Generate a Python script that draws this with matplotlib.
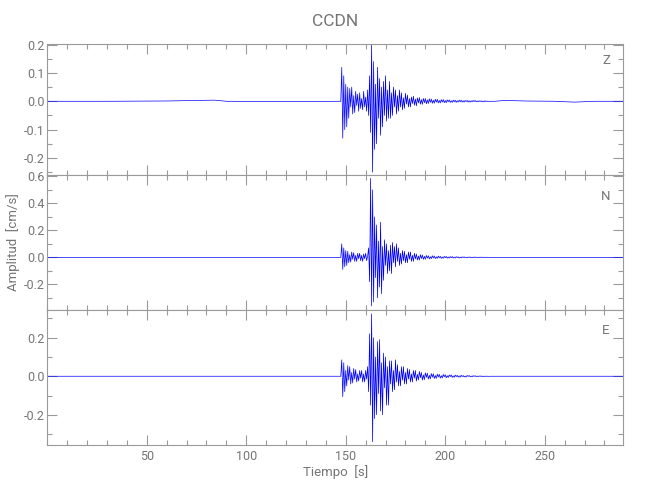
import numpy as np
import matplotlib
matplotlib.use("Agg")
import matplotlib.pyplot as plt
from matplotlib.ticker import MultipleLocator, FixedLocator, FormatStrFormatter

plt.rcParams['font.family'] = ['Roboto', 'DejaVu Sans']

# ---------------- data ----------------
title = "CCDN"
components = ["Z", "N", "E"]
x_label = "Tiempo  [s]"
y_label = "Amplitud  [cm/s]"
t_end = 289.5
x_ticks = [50, 100, 150, 200, 250]

# active part of the records, sampled every 0.5 s starting at 147.5 s
t_start = 147.5
dt = 0.5

z_vals = [
    0.0, 0.12, -0.13, 0.09, -0.10, 0.06, -0.09, 0.05, -0.06, 0.045,
    -0.02, 0.05, -0.045, 0.02, -0.04, 0.035, -0.015, 0.025, -0.035, 0.03,
    -0.025, 0.01, -0.03, 0.035, -0.02, 0.015, -0.035, 0.04, -0.05, 0.09,
    -0.11, 0.20, -0.25, 0.14, -0.17, 0.06, -0.15, 0.12, -0.06, 0.08,
    -0.12, 0.05, -0.09, 0.07, -0.05, 0.09, -0.07, 0.04, -0.06, 0.07,
    -0.06, 0.03, -0.05, 0.05, -0.02, 0.04, -0.045, 0.02, -0.035, 0.04,
    -0.02, 0.03, -0.03, 0.012, -0.025, 0.028, -0.01, 0.022, -0.02, 0.01,
    -0.02, 0.015, -0.008, 0.018, -0.014, 0.008, -0.016, 0.012, -0.006, 0.013,
    -0.01, 0.006, -0.011, 0.01, -0.005, 0.01, -0.009, 0.005, -0.008, 0.009,
    -0.004, 0.008, -0.007, 0.004, -0.007, 0.007, -0.003, 0.007, -0.006, 0.003,
    -0.006, 0.006, -0.003, 0.006, -0.005, 0.003, -0.005, 0.005, -0.002, 0.005,
    -0.004, 0.002, -0.004, 0.004, -0.002, 0.004, -0.004, 0.002, -0.003, 0.004,
    -0.002, 0.004, -0.003, 0.002, -0.003, 0.003, -0.001, 0.003, -0.003, 0.002,
    -0.003, 0.002, -0.002, 0.003, -0.001, 0.003, -0.002, 0.001, -0.002, 0.002,
    -0.001, 0.002, -0.002, 0.001, -0.002, 0.002, -0.001, 0.001, -0.001, 0.0,
]

n_vals = [
    0.0, 0.10, -0.09, 0.07, -0.07, 0.05, -0.06, 0.045, -0.04, 0.02,
    -0.035, 0.04, -0.015, 0.035, -0.03, 0.015, -0.03, 0.03, -0.01, 0.03,
    -0.025, 0.015, -0.03, 0.025, -0.01, 0.03, -0.025, 0.01, 0.07, -0.18,
    0.585, -0.36, 0.50, -0.33, 0.30, -0.15, 0.24, -0.30, 0.12, -0.22,
    0.26, -0.27, 0.08, -0.17, 0.13, -0.06, 0.10, -0.12, 0.05, -0.10,
    0.09, -0.12, 0.11, -0.04, 0.08, -0.07, 0.10, -0.03, 0.07, -0.06,
    0.03, -0.05, 0.05, -0.025, 0.045, -0.04, 0.02, -0.04, 0.04, -0.015,
    0.04, -0.03, 0.015, -0.03, 0.03, -0.012, 0.025, -0.02, 0.01, -0.02,
    0.02, -0.009, 0.018, -0.015, 0.008, -0.014, 0.014, -0.006, 0.012, -0.012,
    0.005, -0.01, 0.012, -0.005, 0.01, -0.009, 0.004, -0.008, 0.009, -0.004,
    0.008, -0.008, 0.003, -0.007, 0.007, -0.003, 0.007, -0.006, 0.003, -0.006,
    0.006, -0.003, 0.006, -0.005, 0.002, -0.005, 0.005, -0.002, 0.004, -0.005,
    0.002, -0.004, 0.004, -0.002, 0.004, -0.003, 0.001, -0.003, 0.003, -0.001,
    0.003, -0.003, 0.001, -0.003, 0.003, -0.001, 0.002, -0.002, 0.001, -0.002,
    0.002, -0.001, 0.002, -0.002, 0.001, -0.001, 0.001, -0.001, 0.001, 0.0,
]

e_vals = [
    0.0, 0.085, -0.106, 0.07, -0.08, 0.03, -0.05, 0.055, -0.02, 0.05,
    -0.04, 0.02, -0.035, 0.04, -0.015, 0.035, -0.03, 0.012, -0.025, 0.03,
    -0.01, 0.03, -0.03, 0.012, -0.03, 0.03, -0.015, 0.05, -0.08, 0.22,
    -0.15, 0.324, -0.34, 0.20, -0.22, 0.10, -0.20, 0.18, -0.09, 0.19,
    -0.18, 0.07, -0.20, 0.12, -0.06, 0.10, -0.15, 0.05, -0.15, 0.08,
    -0.04, 0.08, -0.08, 0.03, -0.07, 0.085, -0.03, 0.06, -0.05, 0.025,
    -0.05, 0.05, -0.02, 0.05, -0.04, 0.02, -0.04, 0.04, -0.015, 0.035,
    -0.03, 0.012, -0.03, 0.03, -0.01, 0.03, -0.025, 0.01, -0.02, 0.025,
    -0.008, 0.02, -0.02, 0.007, -0.018, 0.018, -0.006, 0.016, -0.015, 0.005,
    -0.014, 0.014, -0.005, 0.013, -0.012, 0.004, -0.011, 0.011, -0.004, 0.01,
    -0.01, 0.003, -0.009, 0.009, -0.003, 0.008, -0.008, 0.003, -0.007, 0.007,
    -0.002, 0.007, -0.006, 0.002, -0.006, 0.006, -0.002, 0.005, -0.005, 0.002,
    -0.005, 0.005, -0.002, 0.004, -0.004, 0.001, -0.004, 0.004, -0.001, 0.004,
    -0.003, 0.001, -0.003, 0.003, -0.001, 0.003, -0.002, 0.001, -0.002, 0.002,
    -0.001, 0.002, -0.002, 0.001, -0.002, 0.001, -0.001, 0.001, -0.001, 0.0,
]

# quiet parts (before and after the event)
quiet_pre_t = [0.0, 30.0, 60.0, 84.0, 90.0, 120.0, 147.0]
quiet_post_t = [225.0, 230.0, 240.0, 255.0, 265.0, 275.0, 289.5]
z_pre = [0.0, 0.0, 0.001, 0.004, 0.0, -0.001, 0.0]
z_post = [0.0, 0.003, 0.001, 0.0, -0.003, 0.0, 0.0]
n_pre = [0.0, 0.0, 0.0, 0.0, 0.0, 0.0, 0.0]
n_post = [0.0, 0.0, 0.0, 0.0, 0.0, 0.0, 0.0]
e_pre = [0.0, 0.0, 0.0, 0.0, 0.0, 0.0, 0.0]
e_post = [0.0, 0.0, 0.0, 0.0, 0.0, 0.0, 0.0]

ylims = [(-0.26, 0.202), (-0.39, 0.61), (-0.357, 0.344)]
y_major = [0.1, 0.2, 0.2]
y_minor = [0.05, 0.1, 0.1]

# ---------------- plot ----------------
GRAY = "#9a9a9a"
TXT = "#757575"

fig = plt.figure(figsize=(6.5, 5.0), dpi=100)
W, H = 650.0, 500.0
left, right = 47.3, 623.3
panels_px = [(44, 175), (175, 310), (310, 445)]
label_px_y = [60, 197, 330]

series = [(z_pre, z_vals, z_post), (n_pre, n_vals, n_post), (e_pre, e_vals, e_post)]

axes = []
for k, ((top, bot), (pre, act, post)) in enumerate(zip(panels_px, series)):
    ax = fig.add_axes([left / W, 1 - bot / H, (right - left) / W, (bot - top) / H])
    t_act = t_start + dt * np.arange(len(act))
    t = np.concatenate([quiet_pre_t, t_act, quiet_post_t])
    v = np.concatenate([pre, act, post])
    ax.plot(t, v, color="#0000ff", lw=0.5)
    ax.set_xlim(0, t_end)
    ax.set_ylim(*ylims[k])
    ax.xaxis.set_major_locator(FixedLocator(x_ticks))
    ax.xaxis.set_minor_locator(MultipleLocator(10))
    ax.yaxis.set_major_locator(MultipleLocator(y_major[k]))
    ax.yaxis.set_minor_locator(MultipleLocator(y_minor[k]))
    ax.tick_params(which="both", direction="in", top=True, right=True,
                   color=GRAY, labelcolor=TXT, labelsize=9, width=0.8)
    ax.tick_params(which="major", length=7)
    ax.tick_params(which="minor", length=3.5)
    ax.tick_params(axis="y", which="major", pad=2)
    ax.tick_params(axis="x", which="major", pad=3.5)
    ax.yaxis.set_major_formatter(FormatStrFormatter("%.1f"))
    for s in ax.spines.values():
        s.set_color(GRAY)
        s.set_linewidth(0.8)
    if k < 2:
        ax.tick_params(labelbottom=False)
    ax.text((606 - left) / (right - left), (bot - label_px_y[k]) / (bot - top),
            components[k], transform=ax.transAxes, ha="center", va="center",
            color=TXT, fontsize=9.5)
    axes.append(ax)

fig.text(336 / W, 1 - 472 / H, x_label, ha="center", va="center",
         color=TXT, fontsize=9.5)
fig.text(13.5 / W, 1 - 242 / H, y_label, rotation=90, ha="center", va="center",
         color=TXT, fontsize=9.5)
fig.text(335 / W, 1 - 22 / H, title, ha="center", va="center", color=TXT,
         fontsize=12.5)

fig.savefig("out.png", dpi=100)
